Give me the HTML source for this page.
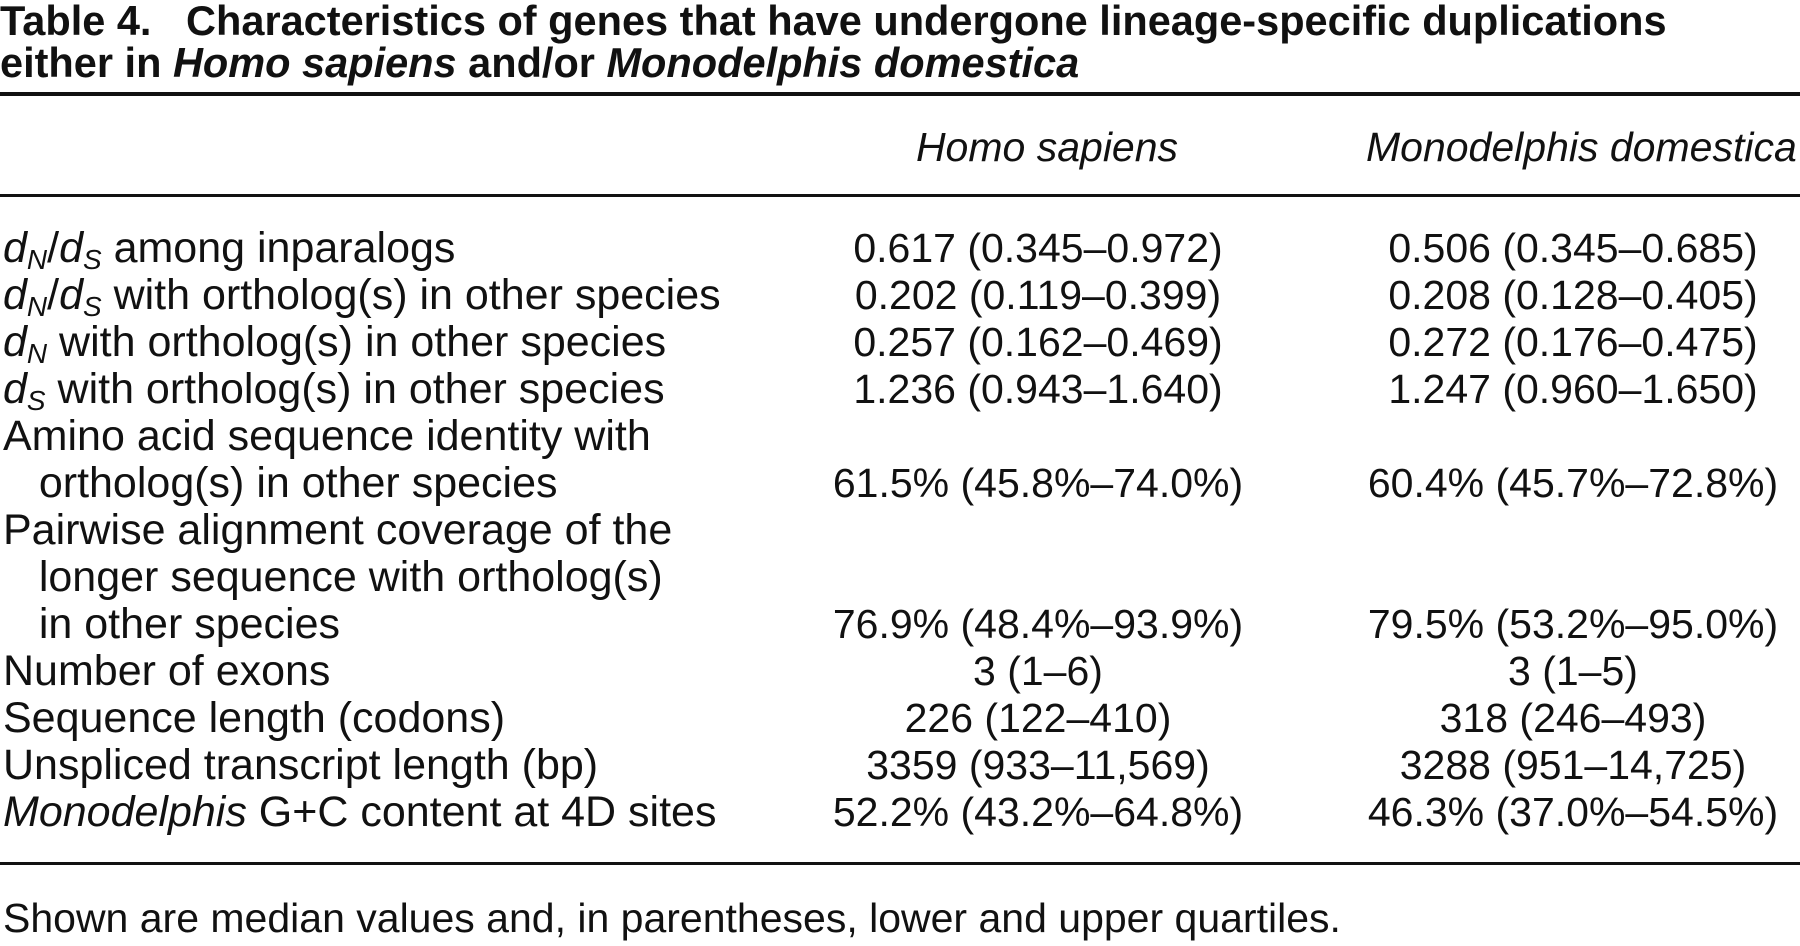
<!DOCTYPE html>
<html><head><meta charset="utf-8"><style>
html,body{margin:0;padding:0;background:#fff;}
body{width:1800px;height:946px;position:relative;overflow:hidden;font-family:"Liberation Sans",sans-serif;color:#111;}
.t{position:absolute;white-space:nowrap;font-size:41.5px;line-height:42px;}
.rule{position:absolute;left:0;width:1800px;background:#111;}
.r{position:absolute;white-space:nowrap;font-size:41px;line-height:47px;}
.lab{font-size:43px;}
.c1{position:absolute;width:700px;left:688px;text-align:center;white-space:nowrap;font-size:41px;line-height:47px;}
.c2{position:absolute;width:700px;left:1223px;text-align:center;white-space:nowrap;font-size:41px;line-height:47px;}
sub{font-size:0.65em;vertical-align:-0.25em;line-height:0;}
i{font-style:italic;}
</style></head><body>
<div class="t" style="left:0;top:0"><b>Table 4.</b>&nbsp;&nbsp;&nbsp;<b>Characteristics of genes that have undergone lineage-specific duplications</b></div>
<div class="t" style="left:0;top:42px"><b>either in <i>Homo sapiens</i> and/or <i>Monodelphis domestica</i></b></div>
<div class="rule" style="top:92px;height:4px"></div>
<div class="c1" style="top:124px;font-style:italic;left:697px">Homo sapiens</div>
<div class="r" style="top:124px;left:1366px;font-style:italic">Monodelphis domestica</div>
<div class="rule" style="top:194px;height:3px"></div>
<div id="rows"></div>
<div class="rule" style="top:862px;height:3px"></div>
<div class="r" style="top:895px;left:3px">Shown are median values and, in parentheses, lower and upper quartiles.</div>
<script>
const labels=[
'<i>d<sub>N</sub></i>/<i>d<sub>S</sub></i> among inparalogs',
'<i>d<sub>N</sub></i>/<i>d<sub>S</sub></i> with ortholog(s) in other species',
'<i>d<sub>N</sub></i> with ortholog(s) in other species',
'<i>d<sub>S</sub></i> with ortholog(s) in other species',
'Amino acid sequence identity with',
'&nbsp;&nbsp;&nbsp;ortholog(s) in other species',
'Pairwise alignment coverage of the',
'&nbsp;&nbsp;&nbsp;longer sequence with ortholog(s)',
'&nbsp;&nbsp;&nbsp;in other species',
'Number of exons',
'Sequence length (codons)',
'Unspliced transcript length (bp)',
'<i>Monodelphis</i> G+C content at 4D sites'];
const homo=['0.617 (0.345–0.972)','0.202 (0.119–0.399)','0.257 (0.162–0.469)','1.236 (0.943–1.640)','','61.5% (45.8%–74.0%)','','','76.9% (48.4%–93.9%)','3 (1–6)','226 (122–410)','3359 (933–11,569)','52.2% (43.2%–64.8%)'];
const mono=['0.506 (0.345–0.685)','0.208 (0.128–0.405)','0.272 (0.176–0.475)','1.247 (0.960–1.650)','','60.4% (45.7%–72.8%)','','','79.5% (53.2%–95.0%)','3 (1–5)','318 (246–493)','3288 (951–14,725)','46.3% (37.0%–54.5%)'];
const root=document.getElementById('rows');
labels.forEach((l,i)=>{
  const top=225+i*47;
  const a=document.createElement('div');a.className='r lab';a.style.left='3px';a.style.top=top+'px';a.innerHTML=l;
  
  
  root.appendChild(a);
  if(homo[i]){const b=document.createElement('div');b.className='c1';b.style.top=top+'px';b.textContent=homo[i];
  
  
  root.appendChild(b);}
  if(mono[i]){const c=document.createElement('div');c.className='c2';c.style.top=top+'px';c.textContent=mono[i];
  
  
  root.appendChild(c);}
});
</script>
</body></html>
